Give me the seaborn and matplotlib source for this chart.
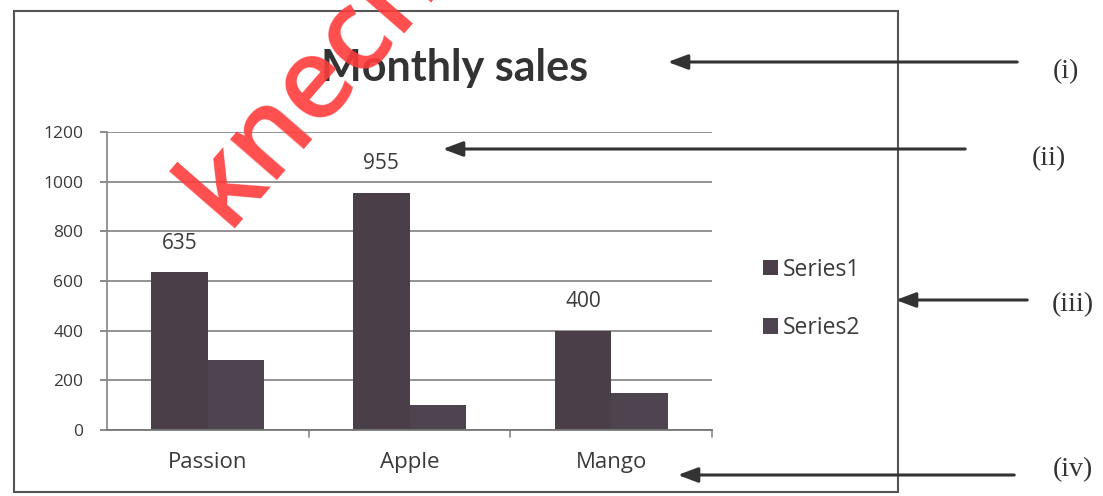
import numpy as np
import pandas as pd
import matplotlib
matplotlib.use("Agg")
import matplotlib.pyplot as plt
import seaborn as sns
from matplotlib.patches import Rectangle, FancyArrowPatch

## Daten
fruits = ["Passion", "Apple", "Mango"]
series1 = [635, 955, 400]
series2 = [280, 100, 150]
series_names = ["Series1", "Series2"]
yticks = [0, 200, 400, 600, 800, 1000, 1200]
markers = ["(i)", "(ii)", "(iii)", "(iv)"]

df = pd.DataFrame({
    "fruit": fruits * 2,
    "sales": series1 + series2,
    "series": [series_names[0]] * 3 + [series_names[1]] * 3,
})

sns.set_theme(style="white")
plt.rcParams["font.family"] = ["Open Sans", "DejaVu Sans"]

W, H = 1103, 496
fig = plt.figure(figsize=(W / 100, H / 100), dpi=100)

def fx(x):
    return x / W

def fy(y):
    return 1 - y / H

# Plotbereich (Pixel vom Original)
ax = fig.add_axes([fx(107), fy(430), fx(712) - fx(107), fy(132) - fy(430)])

txt = "#3a3a3a"
sns.barplot(data=df, x="fruit", y="sales", hue="series", ax=ax,
            palette=["#4a3f49", "#4d4450"], width=0.56, saturation=1,
            edgecolor="none", legend=True)

ax.set_yticks(yticks)
ax.set_yticklabels([str(v) for v in yticks], fontsize=12.5, color=txt)
ax.set_xlabel("")
ax.set_ylabel("")
ax.tick_params(axis="x", labelsize=16, colors=txt, length=0, pad=16)
ax.tick_params(axis="y", length=5, width=1.2, color="#777777", pad=12, left=True)
ax.yaxis.grid(True, color="#8a8a8a", lw=1.3)
ax.set_axisbelow(True)
for s in ["top", "right"]:
    ax.spines[s].set_visible(False)
ax.spines["left"].set_color("#888888")
ax.spines["bottom"].set_color("#777777")
ax.spines["bottom"].set_linewidth(1.3)
# Kategorie-Trennstriche auf der x-Achse
for xb in [0.5, 1.5, 2.5]:
    ax.plot([xb, xb], [0, -28], color="#888888", lw=1.2, clip_on=False)
ax.set_xlim(-0.5, 2.5)
ax.set_ylim(0, 1200)

# Datenbeschriftung Series1
for i, v in enumerate(series1):
    ax.text(i - 0.14, v + 118, str(v), ha="center", va="center",
            fontsize=15, color=txt)

# Legende
handles, labels = ax.get_legend_handles_labels()
ax.legend(handles, labels, loc="center left", bbox_to_anchor=(1.05, 0.44),
          frameon=False, fontsize=16.5, handlelength=0.65, handleheight=0.65,
          handletextpad=0.2, labelspacing=1.5, labelcolor=txt)

# Titel
fig.text(fx(455), fy(68), "Monthly sales", ha="center", va="center",
         fontsize=31, fontweight="bold", color="#333333", family="Lato")

# Rahmen
fig.add_artist(Rectangle((fx(14), fy(492)), fx(898) - fx(14), fy(11) - fy(492),
                         transform=fig.transFigure, fill=False,
                         edgecolor="#555555", lw=1.5))

# Pfeile und Markierungen
arrows = [(1020, 665, 62, 1066, 72), (968, 440, 149, 1049, 159),
          (1030, 893, 300, 1073, 305), (1017, 675, 475, 1073, 470)]
for (x0, x1, y, tx, ty), lab in zip(arrows, markers):
    fig.add_artist(FancyArrowPatch(
        (fx(x0), fy(y)), (fx(x1), fy(y)), transform=fig.transFigure,
        arrowstyle="-|>,head_length=12,head_width=4.5", color="#333333", lw=2.2,
        mutation_scale=1))
    fig.text(fx(tx), fy(ty), lab, ha="center", va="center", fontsize=20,
             family="Liberation Serif", color="#333333")

# Wasserzeichen
fig.text(fx(226), fy(228), "knecnotes", rotation=49, ha="left", va="baseline",
         fontsize=82, color="#ff3b3b", alpha=0.9, fontweight="semibold",
         rotation_mode="anchor", family="Open Sans")

fig.savefig("out.png", dpi=100, facecolor="white")
